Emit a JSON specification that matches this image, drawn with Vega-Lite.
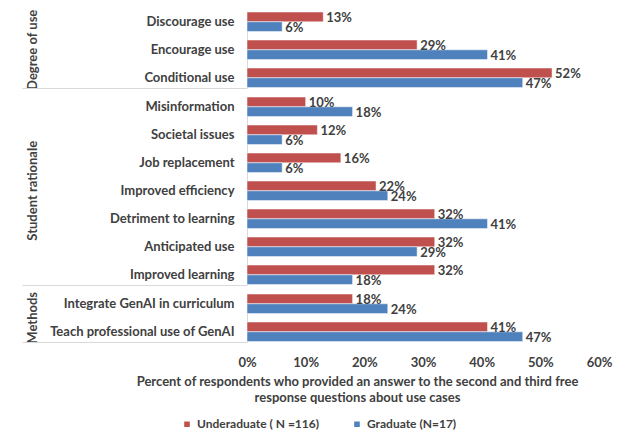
{
  "$schema": "https://vega.github.io/schema/vega-lite/v6.json",
  "padding": {"left": 21, "top": 6, "right": 5, "bottom": 5},
  "data": {"values": [
    {"group": "Degree of use", "category": "Discourage use", "series": "Underaduate ( N =116)", "value": 0.13},
    {"group": "Degree of use", "category": "Discourage use", "series": "Graduate (N=17)", "value": 0.06},
    {"group": "Degree of use", "category": "Encourage use", "series": "Underaduate ( N =116)", "value": 0.29},
    {"group": "Degree of use", "category": "Encourage use", "series": "Graduate (N=17)", "value": 0.41},
    {"group": "Degree of use", "category": "Conditional use", "series": "Underaduate ( N =116)", "value": 0.52},
    {"group": "Degree of use", "category": "Conditional use", "series": "Graduate (N=17)", "value": 0.47},
    {"group": "Student rationale", "category": "Misinformation", "series": "Underaduate ( N =116)", "value": 0.10},
    {"group": "Student rationale", "category": "Misinformation", "series": "Graduate (N=17)", "value": 0.18},
    {"group": "Student rationale", "category": "Societal issues", "series": "Underaduate ( N =116)", "value": 0.12},
    {"group": "Student rationale", "category": "Societal issues", "series": "Graduate (N=17)", "value": 0.06},
    {"group": "Student rationale", "category": "Job replacement", "series": "Underaduate ( N =116)", "value": 0.16},
    {"group": "Student rationale", "category": "Job replacement", "series": "Graduate (N=17)", "value": 0.06},
    {"group": "Student rationale", "category": "Improved efficiency", "series": "Underaduate ( N =116)", "value": 0.22},
    {"group": "Student rationale", "category": "Improved efficiency", "series": "Graduate (N=17)", "value": 0.24},
    {"group": "Student rationale", "category": "Detriment to learning", "series": "Underaduate ( N =116)", "value": 0.32},
    {"group": "Student rationale", "category": "Detriment to learning", "series": "Graduate (N=17)", "value": 0.41},
    {"group": "Student rationale", "category": "Anticipated use", "series": "Underaduate ( N =116)", "value": 0.32},
    {"group": "Student rationale", "category": "Anticipated use", "series": "Graduate (N=17)", "value": 0.29},
    {"group": "Student rationale", "category": "Improved learning", "series": "Underaduate ( N =116)", "value": 0.32},
    {"group": "Student rationale", "category": "Improved learning", "series": "Graduate (N=17)", "value": 0.18},
    {"group": "Methods", "category": "Integrate GenAI in curriculum", "series": "Underaduate ( N =116)", "value": 0.18},
    {"group": "Methods", "category": "Integrate GenAI in curriculum", "series": "Graduate (N=17)", "value": 0.24},
    {"group": "Methods", "category": "Teach professional use of GenAI", "series": "Underaduate ( N =116)", "value": 0.41},
    {"group": "Methods", "category": "Teach professional use of GenAI", "series": "Graduate (N=17)", "value": 0.47}
  ]},
  "facet": {
    "row": {
      "field": "group", "type": "nominal",
      "sort": ["Degree of use", "Student rationale", "Methods"],
      "header": {
        "title": null, "labelAngle": -90, "labelOrient": "left",
        "labelFont": "Lato", "labelFontSize": 13, "labelFontWeight": "bold",
        "labelColor": "#404040", "labelPadding": -25
      }
    }
  },
  "spacing": 0,
  "resolve": {"scale": {"y": "independent"}},
  "spec": {
    "width": 352,
    "height": {"step": 9.8},
    "encoding": {
      "y": {
        "field": "category", "type": "nominal",
        "sort": ["Discourage use", "Encourage use", "Conditional use", "Misinformation", "Societal issues", "Job replacement", "Improved efficiency", "Detriment to learning", "Anticipated use", "Improved learning", "Integrate GenAI in curriculum", "Teach professional use of GenAI"],
        "scale": {"paddingInner": 0.3, "paddingOuter": 0},
        "axis": {
          "title": null,
          "domain": true, "domainColor": "#d9d9d9",
          "ticks": true, "tickBand": "extent", "tickSize": 225,
          "tickColor": {"condition": {"test": "datum.value === 'Conditional use' || datum.value === 'Improved learning' || datum.value === 'Teach professional use of GenAI'", "value": "#d9d9d9"}, "value": "transparent"},
          "labelPadding": -212, "labelLimit": 300,
          "labelFont": "Lato", "labelFontSize": 13, "labelFontWeight": "bold", "labelColor": "#404040"
        }
      },
      "yOffset": {"field": "series", "type": "nominal", "sort": ["Underaduate ( N =116)", "Graduate (N=17)"], "scale": {"paddingInner": 0, "paddingOuter": 0}},
      "x": {
        "field": "value", "type": "quantitative",
        "scale": {"domain": [0, 0.6], "nice": false},
        "axis": {
          "values": [0, 0.1, 0.2, 0.3, 0.4, 0.5, 0.6], "format": ".0%",
          "domain": false, "ticks": false, "grid": false, "labelPadding": 11, "labelFlush": false,
          "labelFont": "Lato", "labelFontSize": 13, "labelFontWeight": "bold", "labelColor": "#404040",
          "title": ["Percent of respondents who provided an answer to the second and third free", "response questions about use cases"],
          "titleFont": "Lato", "titleFontSize": 13, "titleFontWeight": "bold", "titleColor": "#404040",
          "titleLineHeight": 16, "titlePadding": 6, "titleX": 110
        }
      }
    },
    "layer": [
      {
        "mark": {"type": "bar", "stroke": "#ffffff", "strokeWidth": 0.5},
        "encoding": {
          "color": {
            "field": "series", "type": "nominal",
            "scale": {"domain": ["Underaduate ( N =116)", "Graduate (N=17)"], "range": ["#C0504D", "#4F81BD"]},
            "legend": {
              "title": null, "orient": "none", "direction": "horizontal",
              "legendX": -66, "legendY": 406,
              "symbolType": "square", "symbolSize": 50, "columnPadding": 30,
              "labelFont": "Lato", "labelFontSize": 12, "labelFontWeight": "bold", "labelColor": "#404040"
            }
          }
        }
      },
      {
        "mark": {"type": "text", "align": "left", "baseline": "middle", "dx": 3, "dy": 1, "font": "Lato", "fontSize": 13, "fontWeight": "bold", "color": "#404040"},
        "encoding": {
          "text": {"field": "value", "type": "quantitative", "format": ".0%"}
        }
      }
    ]
  },
  "config": {
    "view": {"stroke": null}
  }
}
